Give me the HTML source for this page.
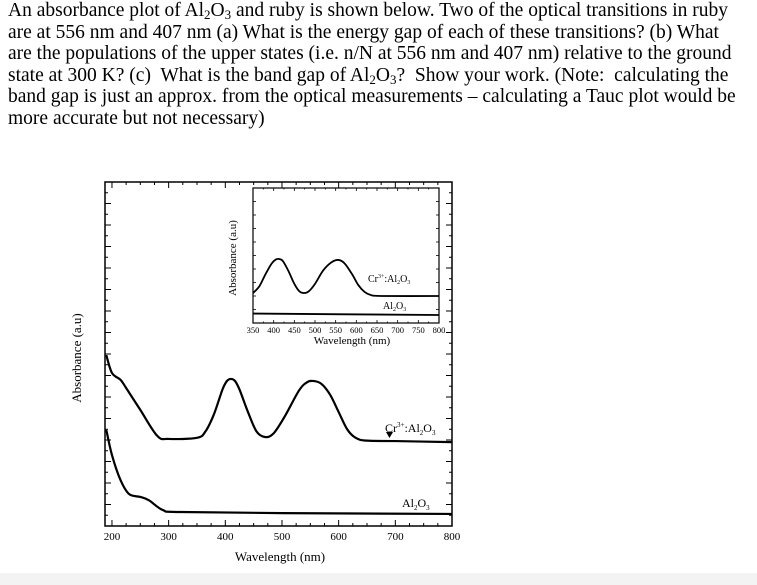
<!DOCTYPE html>
<html><head><meta charset="utf-8"><style>
html,body{margin:0;padding:0;background:#fff;}
body{width:757px;height:585px;position:relative;overflow:hidden;font-family:"Liberation Serif",serif;}
#q{position:absolute;left:8px;top:0px;font-size:19.5px;line-height:21.6px;color:#000;white-space:nowrap;}
#q sub{font-size:13px;line-height:0;vertical-align:-3px;}
#band{position:absolute;left:0;top:573px;width:757px;height:12px;background:#f3f3f3;}
svg{position:absolute;left:0;top:0;}
</style></head><body>
<div id="q">An absorbance plot of Al<sub>2</sub>O<sub>3</sub> and ruby is shown below. Two of the optical transitions in ruby<br>are at 556 nm and 407 nm (a) What is the energy gap of each of these transitions? (b) What<br>are the populations of the upper states (i.e. n/N at 556 nm and 407 nm) relative to the ground<br>state at 300 K? (c)&nbsp; What is the band gap of Al<sub>2</sub>O<sub>3</sub>?&nbsp; Show your work. (Note:&nbsp; calculating the<br>band gap is just an approx. from the optical measurements – calculating a Tauc plot would be<br>more accurate but not necessary)</div>
<div id="band"></div>
<svg id="chart" width="757" height="585"></svg>
<script>
const mainWl=[190,200,215,225,250,280,300,350,365,380,395,403,410,417,425,440,455,470,485,505,530,545,557,570,585,600,615,630,650,700,800];
const mainCr=[7.95,7.12,6.8,6.42,5.4,4.19,4.05,4.1,4.4,5.2,6.35,6.75,6.84,6.75,6.35,5.3,4.4,4.14,4.3,5.1,6.3,6.7,6.74,6.6,6.1,5.3,4.5,4.1,3.97,3.95,3.9];
const mainAlWl=[190,200,215,230,250,265,290,320,500,800];
const mainAl=[4.47,3.3,2.14,1.49,1.35,1.2,0.74,0.65,0.6,0.56];
const insetWl=[350,365,380,395,405,413,422,435,450,462,473,485,500,520,540,557,572,590,605,620,635,660,800];
const insetCr=[2.22,2.7,3.6,4.4,4.7,4.74,4.6,3.9,2.9,2.35,2.22,2.35,2.9,3.9,4.5,4.67,4.4,3.6,2.8,2.3,2.07,2.0,2.0];
const insetAlWl=[350,800];
const insetAl=[0.7,0.59];
const mainTicks=[200,300,400,500,600,700,800];
const insetTicks=[350,400,450,500,550,600,650,700,750,800];

const NS="http://www.w3.org/2000/svg";
const svg=document.getElementById('chart');
function mk(t,a,p){const e=document.createElementNS(NS,t);for(const k in a)e.setAttribute(k,a[k]);(p||svg).appendChild(e);return e;}
function lin(d0,d1,r0,r1){return v=>r0+(v-d0)*(r1-r0)/(d1-d0);}
function smooth(pts){let d=`M${pts[0][0]},${pts[0][1]}`;for(let i=0;i<pts.length-1;i++){const p0=pts[Math.max(0,i-1)],p1=pts[i],p2=pts[i+1],p3=pts[Math.min(pts.length-1,i+2)];d+=`C${p1[0]+(p2[0]-p0[0])/6},${p1[1]+(p2[1]-p0[1])/6} ${p2[0]-(p3[0]-p1[0])/6},${p2[1]-(p3[1]-p1[1])/6} ${p2[0]},${p2[1]}`;}return d;}
function txt(x,y,s,size,name,anchor,extra){const t=mk('text',Object.assign({x:x,y:y,'font-size':size,'font-family':'Liberation Serif, serif','text-anchor':anchor||'middle'},extra||{}));t.innerHTML=s;return t;}

// main plot
const L=105,R=452,T=182,B=526;
const mx=lin(190,800,106.3,452), my=lin(0,16,B,T);
const frame=mk('rect',{x:L,y:T,width:R-L,height:B-T,fill:'none',stroke:'#000','stroke-width':1.5});

for(let v=200;v<=800;v+=25){const x=mx(v),len=v%100===0?6:3;
 mk('line',{x1:x,y1:B,x2:x,y2:B-len,stroke:'#000'});mk('line',{x1:x,y1:T,x2:x,y2:T+len,stroke:'#000'});}
mainTicks.forEach(v=>txt(mx(v),540,v,11,'x-tick-label'));
for(let v=0;v<=16;v+=0.5){const y=my(v),len=v%1===0?6:3;
 mk('line',{x1:L,y1:y,x2:L+len,y2:y,stroke:'#000'});mk('line',{x1:R,y1:y,x2:R-len,y2:y,stroke:'#000'});}
txt(280,561,'Wavelength (nm)',13,'x-axis-title');
txt(0,0,'Absorbance (a.u)',13,'y-axis-title','middle',{transform:'translate(81,358) rotate(-90)'});
let p=mk('path',{d:smooth(mainWl.map((w,i)=>[mx(w),my(mainCr[i])])),fill:'none',stroke:'#000','stroke-width':2.2});

p=mk('path',{d:smooth(mainAlWl.map((w,i)=>[mx(w),my(mainAl[i])])),fill:'none',stroke:'#000','stroke-width':2.2});

txt(385,432,'Cr<tspan font-size="7" dy="-5">3+</tspan><tspan dy="5">:Al</tspan><tspan font-size="7" dy="3">2</tspan><tspan dy="-3">O</tspan><tspan font-size="7" dy="3">3</tspan>',12,'cr-label','start');
const ar=mk('path',{d:'M386,432 L393,432 L389.5,438 Z',fill:'#000'});
txt(402,507,'Al<tspan font-size="7" dy="3">2</tspan><tspan dy="-3">O</tspan><tspan font-size="7" dy="3">3</tspan>',12,'al2o3-label','start');

// inset
const iL=253,iR=439,iT=188,iB=323;
const ix=lin(350,800,iL,iR), iy=lin(0,10,iB,iT);
const ifr=mk('rect',{x:iL,y:iT,width:iR-iL,height:iB-iT,fill:'#fff',stroke:'#000','stroke-width':1.2});

for(let v=350;v<=800;v+=25){const x=ix(v),len=v%50===0?3:1.5;mk('line',{x1:x,y1:iB,x2:x,y2:iB-len,stroke:'#000','stroke-width':0.8});mk('line',{x1:x,y1:iT,x2:x,y2:iT+len,stroke:'#000','stroke-width':0.8});}
for(let v=0;v<=10;v+=1){const y=iy(v);mk('line',{x1:iL,y1:y,x2:iL+3,y2:y,stroke:'#000','stroke-width':0.8});mk('line',{x1:iR,y1:y,x2:iR-3,y2:y,stroke:'#000','stroke-width':0.8});}
insetTicks.forEach(v=>txt(ix(v),333,v,8.5,'inset-x-tick-label'));
txt(352,344,'Wavelength (nm)',11,'inset-x-axis-title');
txt(0,0,'Absorbance (a.u)',11,'inset-y-axis-title','middle',{transform:'translate(236,258) rotate(-90)'});
p=mk('path',{d:smooth(insetWl.map((w,i)=>[ix(w),iy(insetCr[i])])),fill:'none',stroke:'#000','stroke-width':1.8});

p=mk('path',{d:smooth(insetAlWl.map((w,i)=>[ix(w),iy(insetAl[i])])),fill:'none',stroke:'#000','stroke-width':1.8});

txt(368,282,'Cr<tspan font-size="6" dy="-4">3+</tspan><tspan dy="4">:Al</tspan><tspan font-size="6" dy="2">2</tspan><tspan dy="-2">O</tspan><tspan font-size="6" dy="2">3</tspan>',10,'inset-cr-label','start');
txt(383,309,'Al<tspan font-size="6" dy="2">2</tspan><tspan dy="-2">O</tspan><tspan font-size="6" dy="2">3</tspan>',10,'inset-al2o3-label','start');
</script>
</body></html>
